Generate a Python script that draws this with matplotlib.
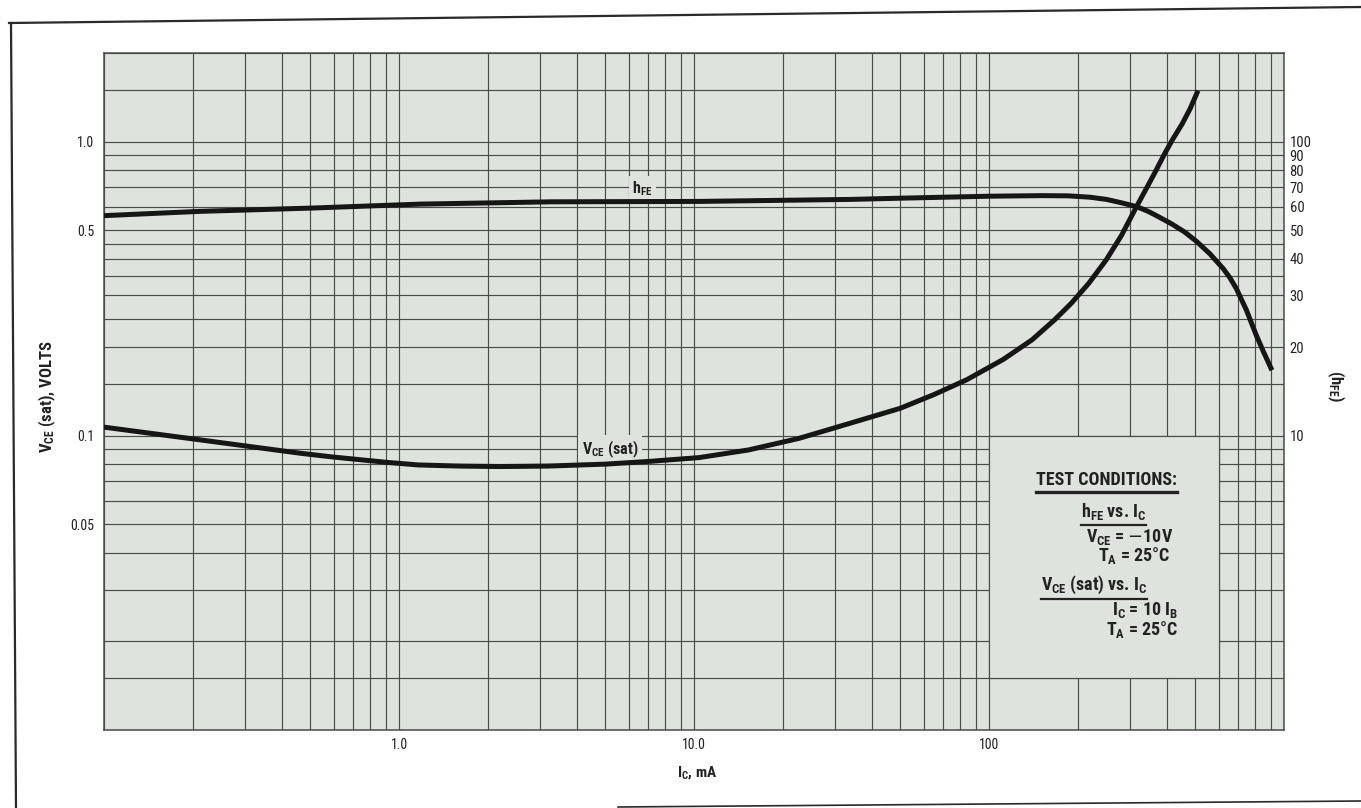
import matplotlib
matplotlib.use("Agg")
import matplotlib.pyplot as plt
from matplotlib import font_manager
from matplotlib.ticker import FixedLocator, FixedFormatter, NullLocator
from matplotlib.patches import Rectangle
from matplotlib.lines import Line2D

# ---- data -------------------------------------------------------------
# V_CE(sat) vs I_C  (I_C in mA, V in volts)
ic_vce = [0.1, 0.2, 0.46, 0.59, 0.9, 1.16, 1.6, 2.2, 3.2, 5.0, 7.0, 10.4,
          15.3, 22.7, 33.5, 50, 65, 84, 112, 140, 167, 190, 218, 250, 281, 316,
          340, 364, 394, 420, 452, 480, 511]
vce_sat = [0.107, 0.0976, 0.0873, 0.0848, 0.0813, 0.0796, 0.0789, 0.0786,
           0.0789, 0.0801, 0.0818, 0.0843, 0.0895, 0.098, 0.110, 0.124, 0.138,
           0.155, 0.182, 0.212, 0.248, 0.282, 0.330, 0.397, 0.479, 0.600,
           0.687, 0.78, 0.91, 1.02, 1.15, 1.29, 1.49]

# h_FE vs I_C
ic_hfe = [0.1, 0.21, 0.5, 1.18, 3.27, 10.4, 34, 50, 100, 150, 185, 220, 250,
          280, 318, 345, 366, 416, 460, 505, 560, 622, 655, 690, 745, 805, 850,
          910]
hfe = [56.0, 57.9, 59.4, 61.3, 62.4, 62.6, 63.6, 64.2, 65.2, 65.5, 65.4, 64.7,
       63.6, 62.0, 60.0, 58.0, 56.3, 52.5, 49.3, 45.8, 41.6, 37.0, 34.5, 31.6,
       26.8, 22.0, 19.4, 16.7]

# axis labels
x_ticks = [1, 10, 100]
x_tick_labels = ["1.0", "10.0", "100"]
y_ticks = [0.05, 0.1, 0.5, 1.0]
y_tick_labels = ["0.05", "0.1", "0.5", "1.0"]
hfe_ticks = [10, 20, 30, 40, 50, 60, 70, 80, 90, 100]
hfe_tick_labels = [str(v) for v in hfe_ticks]

# graph-paper rulings
x_rulings = [k * 10.0 ** d for d in (-1, 0, 1, 2) for k in range(1, 10)] + [1000]
y_rulings = [0.01, 0.015, 0.02, 0.03, 0.04, 0.05, 0.06, 0.07, 0.08, 0.09,
             0.1, 0.15, 0.2, 0.25, 0.3, 0.35, 0.4, 0.45, 0.5, 0.6, 0.7, 0.8,
             0.9, 1.0, 1.5, 2.0]

# ---- style ------------------------------------------------------------
names = {f.name for f in font_manager.fontManager.ttflist}
FONT = "DejaVu Sans"
for cand in ["Liberation Sans Narrow", "Roboto Condensed", "Open Sans Condensed",
             "Liberation Sans"]:
    if cand in names:
        FONT = cand
        break
plt.rcParams["font.family"] = [FONT, "DejaVu Sans"]

PAPER = "#dfe3dd"
RULE = "#4a4c4a"
INK = "#161616"
TEXT = "#222222"

W, H = 1361, 808
fig = plt.figure(figsize=(W / 100, H / 100), dpi=100)
fig.patch.set_facecolor("white")


def fx(px):
    return px / W


def fy(py):
    return 1 - py / H


ax = fig.add_axes([fx(104), fy(730), 1180 / W, 677 / H])
ax.set_facecolor(PAPER)
ax.set_xscale("log")
ax.set_yscale("log")
ax.set_xlim(0.1, 1000)
ax.set_ylim(0.01, 2.0)

ax.xaxis.set_major_locator(FixedLocator(x_ticks))
ax.xaxis.set_major_formatter(FixedFormatter(x_tick_labels))
ax.xaxis.set_minor_locator(FixedLocator(x_rulings))
ax.yaxis.set_major_locator(FixedLocator(y_ticks))
ax.yaxis.set_major_formatter(FixedFormatter(y_tick_labels))
ax.yaxis.set_minor_locator(FixedLocator(y_rulings))
ax.xaxis.set_minor_formatter(plt.NullFormatter())
ax.yaxis.set_minor_formatter(plt.NullFormatter())
ax.set_axisbelow(True)
ax.grid(which="both", color=RULE, linewidth=0.85)
ax.tick_params(which="both", length=0, colors=TEXT)
ax.tick_params(axis="x", labelsize=10, pad=6)
ax.tick_params(axis="y", labelsize=10, pad=7)
for s in ax.spines.values():
    s.set_color(RULE)
    s.set_linewidth(1.1)

# clear panel for the test-condition notes
ax.add_patch(Rectangle((100, 0.015), 500, 0.085, facecolor=PAPER,
                       edgecolor=RULE, linewidth=0.85, zorder=1.5))

ax.plot(ic_vce, vce_sat, color=INK, linewidth=3.6, solid_capstyle="butt",
        solid_joinstyle="round", zorder=3)

# right-hand h_FE scale
ax2 = ax.twinx()
ax2.set_yscale("log")
ax2.set_ylim(1, 200)
ax2.yaxis.set_major_locator(FixedLocator(hfe_ticks))
ax2.yaxis.set_major_formatter(FixedFormatter(hfe_tick_labels))
ax2.yaxis.set_minor_locator(NullLocator())
ax2.tick_params(which="both", length=0, labelsize=10.5, pad=4, colors=TEXT)
for s in ax2.spines.values():
    s.set_visible(False)
ax2.plot(ic_hfe, hfe, color=INK, linewidth=3.6, solid_capstyle="butt",
         solid_joinstyle="round", zorder=3)

# curve labels
lab_box = dict(facecolor=PAPER, edgecolor="none", pad=2.5)
ax.text(6.7, 0.69, r"$\mathregular{h_{FE}}$", fontsize=11.5, fontweight="bold",
        color=TEXT, ha="center", va="center", bbox=lab_box, zorder=2)
ax.text(5.2, 0.090, r"$\mathregular{V_{CE}}$ (sat)", fontsize=11.5,
        fontweight="bold", color=TEXT, ha="center", va="center", bbox=lab_box,
        zorder=2)

# axis titles
fig.text(fx(47), fy(397), r"$\mathregular{V_{CE}}$ (sat), VOLTS", rotation=90,
         fontsize=12, fontweight="bold", color=TEXT, ha="center", va="center")
fig.text(fx(1336), fy(386), r"($\mathregular{h_{FE}}$)", rotation=270,
         fontsize=12, fontweight="bold", color=TEXT, ha="center", va="center")
fig.text(fx(697), fy(773), r"$\mathregular{I_C}$, mA", fontsize=11,
         fontweight="bold", color=TEXT, ha="center", va="center")

# test conditions
notes = [
    ("TEST CONDITIONS:", 1177, 480, 2.4),
    (r"$\mathregular{h_{FE}}$ vs. $\mathregular{I_C}$", 1146, 512, 1.6),
    (r"$\mathregular{V_{CE}}$ = $-$10V", 1173, 537, 0),
    (r"$\mathregular{T_A}$ = 25°C", 1170, 556, 0),
    (r"$\mathregular{V_{CE}}$ (sat) vs. $\mathregular{I_C}$", 1147, 585, 1.6),
    (r"$\mathregular{I_C}$ = 10 $\mathregular{I_B}$", 1178, 610, 0),
    (r"$\mathregular{T_A}$ = 25°C", 1178, 629, 0),
]
note_texts = []
for s, px, py, ul in notes:
    t = fig.text(fx(px), fy(py), s, fontsize=13, fontweight="bold", color=TEXT,
                 ha="right", va="center")
    note_texts.append((t, ul))

fig.canvas.draw()
renderer = fig.canvas.get_renderer()
for t, ul in note_texts:
    if ul:
        bb = t.get_window_extent(renderer)
        yline = bb.y0 - 2.5
        fig.add_artist(Line2D([bb.x0 / W, bb.x1 / W], [yline / H, yline / H],
                              transform=fig.transFigure, color=TEXT,
                              linewidth=ul))

# page frame
for xs, ys, lw in [((9, 1361), (23, 7), 1.6),
                   ((11, 16), (23, 808), 1.6),
                   ((618, 1361), (807, 801), 1.2)]:
    fig.add_artist(Line2D([fx(xs[0]), fx(xs[1])], [fy(ys[0]), fy(ys[1])],
                          transform=fig.transFigure, color="#2a2a2a",
                          linewidth=lw))

fig.savefig("out.png", dpi=100, facecolor="white")
